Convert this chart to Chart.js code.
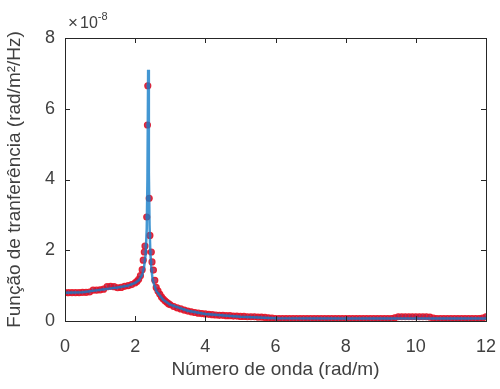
<!DOCTYPE html>
<html>
<head>
<meta charset="utf-8">
<script src="https://cdn.jsdelivr.net/npm/chart.js@4"></script>
<style>
  html, body { margin: 0; padding: 0; background: #fff; }
  canvas { display: block; }
</style>
</head>
<body>
<canvas id="grafico" width="500" height="389"></canvas>
<script>
// valores em unidades de 1e-8 (rad/m²/Hz)
const kMedido = [
  0.0, 0.1, 0.2, 0.3, 0.4, 0.5, 0.6, 0.7, 0.8, 0.9,
  1.0, 1.1, 1.2, 1.3, 1.4, 1.5, 1.6, 1.7, 1.8, 1.9,
  2.0, 2.05, 2.1, 2.15, 2.2, 2.23, 2.26, 2.28, 2.33, 2.35, 2.36,
  2.40, 2.42, 2.46, 2.48, 2.52, 2.56, 2.6, 2.65, 2.7, 2.75, 2.8, 2.85, 2.9, 2.95,
  3.0, 3.1, 3.2, 3.3, 3.4, 3.5, 3.6, 3.7, 3.8, 3.9,
  4.0, 4.1, 4.2, 4.3, 4.4, 4.5, 4.6, 4.7, 4.8, 4.9,
  5.0, 5.1, 5.2, 5.3, 5.4, 5.5, 5.6, 5.7, 5.8, 5.9,
  6.0, 6.1, 6.2, 6.3, 6.4, 6.5, 6.6, 6.7, 6.8, 6.9,
  7.0, 7.1, 7.2, 7.3, 7.4, 7.5, 7.6, 7.7, 7.8, 7.9,
  8.0, 8.1, 8.2, 8.3, 8.4, 8.5, 8.6, 8.7, 8.8, 8.9,
  9.0, 9.1, 9.2, 9.3, 9.4, 9.5, 9.6, 9.7, 9.8, 9.9,
  10.0, 10.1, 10.2, 10.3, 10.4, 10.5, 10.6, 10.7, 10.8, 10.9,
  11.0, 11.1, 11.2, 11.3, 11.4, 11.5, 11.6, 11.7, 11.8, 11.9, 12.0
];
const hMedido = [
  0.80, 0.80, 0.80, 0.80, 0.80, 0.81, 0.81, 0.82, 0.87, 0.87,
  0.88, 0.90, 0.97, 0.98, 0.97, 0.94, 0.95, 0.98, 1.00, 1.03,
  1.08, 1.12, 1.18, 1.28, 1.45, 1.72, 1.95, 2.12, 2.94, 5.54, 6.65,
  3.47, 2.42, 1.95, 1.67, 1.44, 1.15, 0.95, 0.85, 0.76, 0.68, 0.62, 0.57, 0.53, 0.49,
  0.46, 0.41, 0.37, 0.34, 0.31, 0.28, 0.26, 0.24, 0.22, 0.21,
  0.20, 0.19, 0.18, 0.17, 0.16, 0.16, 0.15, 0.15, 0.14, 0.14,
  0.13, 0.13, 0.12, 0.12, 0.12, 0.11, 0.11, 0.10, 0.09, 0.08,
  0.07, 0.07, 0.07, 0.07, 0.07, 0.07, 0.07, 0.07, 0.07, 0.07,
  0.07, 0.07, 0.07, 0.07, 0.07, 0.07, 0.07, 0.07, 0.07, 0.07,
  0.07, 0.07, 0.07, 0.07, 0.07, 0.07, 0.07, 0.07, 0.07, 0.07,
  0.07, 0.07, 0.07, 0.07, 0.09, 0.12, 0.12, 0.12, 0.12, 0.12,
  0.12, 0.12, 0.12, 0.12, 0.11, 0.08, 0.07, 0.07, 0.07, 0.07,
  0.07, 0.07, 0.07, 0.07, 0.07, 0.07, 0.07, 0.07, 0.07, 0.08, 0.12
];

// curva ajustada (linha azul)
const kAjuste = [0, 0.5, 1.0, 1.5, 1.8, 2.0, 2.1, 2.2, 2.25, 2.3, 2.33, 2.35, 2.37, 2.39, 2.41, 2.43, 2.46, 2.5, 2.6, 2.8, 3.0, 3.5, 4.0, 5.0, 6.0, 8.0, 10.0, 12.0];
const hAjuste = [0.80, 0.81, 0.88, 0.95, 1.0, 1.08, 1.15, 1.3, 1.5, 1.9, 2.6, 4.0, 7.1, 4.2, 2.7, 2.0, 1.5, 1.15, 0.85, 0.6, 0.46, 0.29, 0.2, 0.12, 0.08, 0.07, 0.07, 0.07];

const ticksX = [0, 2, 4, 6, 8, 10, 12];
const ticksY = [0, 2, 4, 6, 8];

const corEixo = '#262626';
const fonte = 'Liberation Sans, Arial, sans-serif';

// caixa do gráfico com ticks para dentro (estilo MATLAB) e o expoente x10^-8
const caixaPlugin = {
  id: 'caixa',
  afterDraw(chart) {
    const { ctx, chartArea: a, scales } = chart;
    ctx.save();
    ctx.strokeStyle = corEixo;
    ctx.lineWidth = 1;
    ctx.strokeRect(a.left + 0.5, a.top + 0.5, a.right - a.left, a.bottom - a.top);
    const len = 5;
    ctx.beginPath();
    scales.x.ticks.forEach(t => {
      const px = Math.round(scales.x.getPixelForValue(t.value)) + 0.5;
      ctx.moveTo(px, a.bottom); ctx.lineTo(px, a.bottom - len);
      ctx.moveTo(px, a.top); ctx.lineTo(px, a.top + len);
    });
    scales.y.ticks.forEach(t => {
      const py = Math.round(scales.y.getPixelForValue(t.value)) + 0.5;
      ctx.moveTo(a.left, py); ctx.lineTo(a.left + len, py);
      ctx.moveTo(a.right, py); ctx.lineTo(a.right - len, py);
    });
    ctx.stroke();

    ctx.fillStyle = '#404040';
    ctx.textBaseline = 'alphabetic';
    ctx.font = '17px ' + fonte;
    ctx.fillText('\u00d7', a.left + 3, a.top - 10);
    ctx.font = '16px ' + fonte;
    ctx.fillText('10', a.left + 15, a.top - 10);
    const w = ctx.measureText('10').width;
    ctx.font = '11px ' + fonte;
    ctx.fillText('-8', a.left + 15 + w, a.top - 18);
    ctx.restore();
  }
};

const ctx = document.getElementById('grafico').getContext('2d');
new Chart(ctx, {
  type: 'scatter',
  data: {
    datasets: [
      {
        label: 'Ajuste',
        data: kAjuste.map((k, i) => ({ x: k, y: hAjuste[i] })),
        showLine: true,
        borderColor: 'rgba(20, 125, 200, 0.8)',
        borderWidth: 2.5,
        pointRadius: 0,
        tension: 0,
        order: 0
      },
      {
        label: 'Medido',
        data: kMedido.map((k, i) => ({ x: k, y: hMedido[i] })),
        showLine: false,
        pointRadius: 3,
        pointBorderWidth: 1.2,
        pointBorderColor: 'rgba(235, 20, 35, 0.9)',
        pointBackgroundColor: 'rgba(165, 35, 80, 0.85)',
        order: 1
      }
    ]
  },
  options: {
    responsive: false,
    animation: false,
    devicePixelRatio: 1,
    layout: { padding: { top: 38, right: 14, bottom: 0, left: 0 } },
    plugins: { legend: { display: false }, tooltip: { enabled: false } },
    scales: {
      x: {
        type: 'linear',
        min: 0, max: 12,
        afterBuildTicks: s => { s.ticks = ticksX.map(v => ({ value: v })); },
        afterFit: s => { s.height = 68; s.paddingLeft = 0; s.paddingRight = 0; },
        grid: { display: false, drawTicks: false },
        border: { display: false },
        ticks: { padding: 15, color: '#404040', font: { family: fonte, size: 18 } },
        title: {
          display: true,
          text: 'Número de onda (rad/m)',
          color: '#404040',
          font: { family: fonte, size: 19 },
          padding: { top: 0, bottom: 8 }
        }
      },
      y: {
        type: 'linear',
        min: 0, max: 8,
        afterBuildTicks: s => { s.ticks = ticksY.map(v => ({ value: v })); },
        afterFit: s => { s.width = 65; s.paddingTop = 0; s.paddingBottom = 0; },
        grid: { display: false, drawTicks: false },
        border: { display: false },
        ticks: { padding: 10, color: '#404040', font: { family: fonte, size: 18 } },
        title: {
          display: true,
          text: 'Função de tranferência (rad/m²/Hz)',
          color: '#404040',
          font: { family: fonte, size: 19 },
          padding: { top: 3, bottom: 0 }
        }
      }
    }
  },
  plugins: [caixaPlugin]
});
</script>
</body>
</html>
